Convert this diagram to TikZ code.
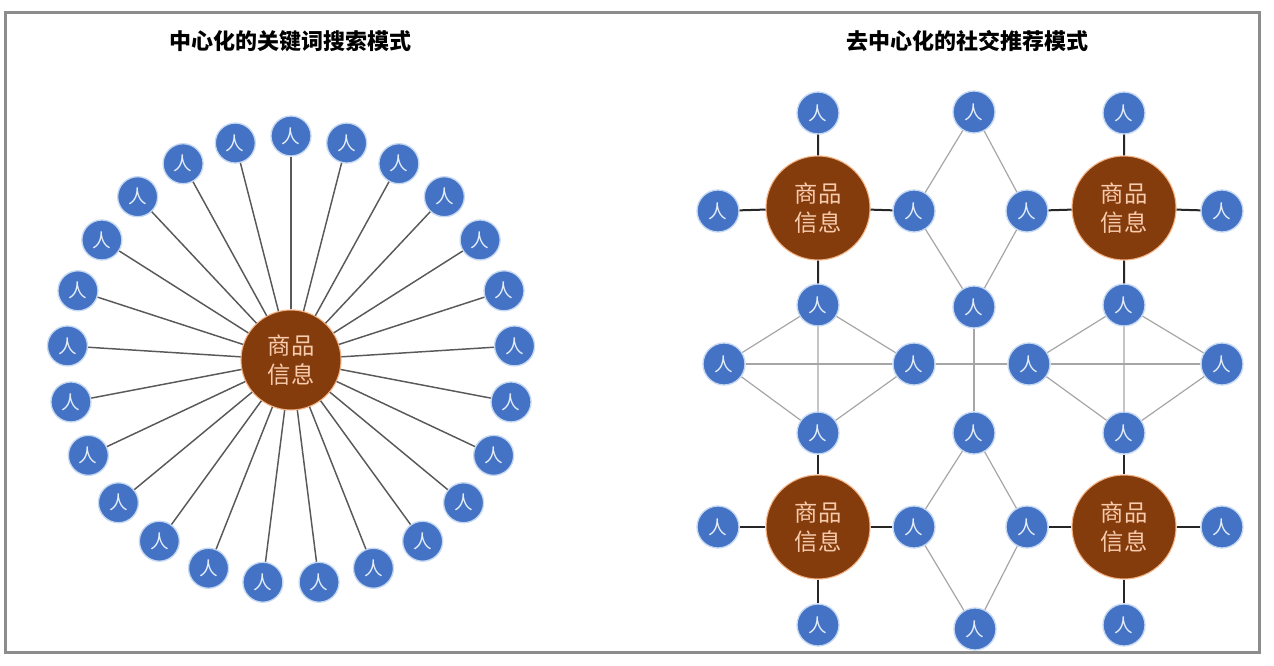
\documentclass[tikz,border=0pt]{standalone}
\usepackage{fontspec}
\usepackage{xcolor}
\usepackage{tikz}
\newfontfamily\cjk{Noto Sans CJK SC}
\definecolor{personblue}{HTML}{4472C4}
\definecolor{haloblue}{HTML}{C5D8F1}
\definecolor{personfg}{HTML}{E4EEFA}
\definecolor{hubbrown}{HTML}{843C0C}
\definecolor{hubedge}{HTML}{F4B183}
\definecolor{hubfg}{HTML}{F8CBAD}
\definecolor{spokegray}{HTML}{595959}
\definecolor{linkgray}{HTML}{A6A6A6}
\definecolor{framegray}{HTML}{8C8C8C}

\tikzset{
  person/.style={circle, fill=personblue, draw=haloblue, line width=1pt,
    minimum size=31.5pt, inner sep=0pt, text=personfg,
    font=\cjk\fontsize{14}{14}\selectfont},
  smallperson/.style={person, minimum size=30pt},
  hub/.style={circle, fill=hubbrown, draw=hubedge, line width=0.8pt,
    minimum size=78pt, inner sep=0pt, text=hubfg, align=center,
    font=\cjk\fontsize{17.5}{21.5}\selectfont},
  spoke/.style={draw=spokegray, line width=1.1pt},
  tie/.style={draw=black!85, line width=1.5pt},
  link/.style={draw=linkgray, line width=0.9pt},
  title/.style={font=\cjk\bfseries\fontsize{16.5}{16.5}\selectfont},
  frame/.style={draw=framegray, line width=2.25pt}
}

\begin{document}
\begin{tikzpicture}[x=0.75pt, y=-0.75pt]
    \useasboundingbox (0,0) rectangle (1274,666);
    \draw[frame] (5,12.5) rectangle (1259,652);

    % Centralised keyword search
    \node[title] (titleL) at (290,41) {中心化的关键词搜索模式};
    \node[hub, minimum size=75pt] (hubL) at (291,360) {商品\\信息};
    \foreach \i in {0,...,24} {
        \pgfmathsetmacro\ang{90-14.4*\i}
        \node[smallperson] (p\i) at ({291+224*cos(\ang)},{360-224*sin(\ang)}) {人};
        \draw[spoke] (hubL) -- (p\i);
    }

    % Decentralised social recommendation
    \node[title] (titleR) at (967,41) {去中心化的社交推荐模式};
    \node[hub] (hubNW) at (818,208) {商品\\信息};
    \node[hub] (hubNE) at (1124,208) {商品\\信息};
    \node[hub] (hubSW) at (818,527) {商品\\信息};
    \node[hub] (hubSE) at (1124,527) {商品\\信息};

    \node[person] (tA) at (818,113) {人};
    \node[person] (tB) at (974,112) {人};
    \node[person] (tC) at (1124,113) {人};
    \node[person] (uA) at (718,211) {人};
    \node[person] (uB) at (914,211) {人};
    \node[person] (uC) at (1027,211) {人};
    \node[person] (uD) at (1222,211) {人};
    \node[person] (vA) at (818,305) {人};
    \node[person] (vB) at (974,307) {人};
    \node[person] (vC) at (1124,305) {人};
    \node[person] (mA) at (724,364) {人};
    \node[person] (mB) at (914,364) {人};
    \node[person] (mC) at (1029,364) {人};
    \node[person] (mD) at (1222,364) {人};
    \node[person] (wA) at (818,433) {人};
    \node[person] (wB) at (974,433) {人};
    \node[person] (wC) at (1124,433) {人};
    \node[person] (xA) at (718,527) {人};
    \node[person] (xB) at (914,527) {人};
    \node[person] (xC) at (1027,527) {人};
    \node[person] (xD) at (1222,527) {人};
    \node[person] (bA) at (818,625) {人};
    \node[person] (bB) at (975,629) {人};
    \node[person] (bC) at (1124,625) {人};

    % hub ties
    \foreach \h/\a/\b/\c/\d in {hubNW/tA/uA/uB/vA, hubNE/tC/uC/uD/vC,
                                hubSW/wA/xA/xB/bA, hubSE/wC/xC/xD/bC}
        \draw[tie] (\h) -- (\a) (\h) -- (\b) (\h) -- (\c) (\h) -- (\d);

    % friend links
    \draw[link] (tB) -- (uB) -- (vB) -- (uC) -- (tB);
    \draw[link] (vA) -- (mA) -- (wA) -- (mB) -- (vA) -- (wA);
    \draw[link] (vC) -- (mC) -- (wC) -- (mD) -- (vC) -- (wC);
    \draw[link] (mA) -- (mB) -- (mC) -- (mD);
    \draw[link] (vB) -- (wB);
    \draw[link] (wB) -- (xB) -- (bB) -- (xC) -- (wB);
\end{tikzpicture}
\end{document}
